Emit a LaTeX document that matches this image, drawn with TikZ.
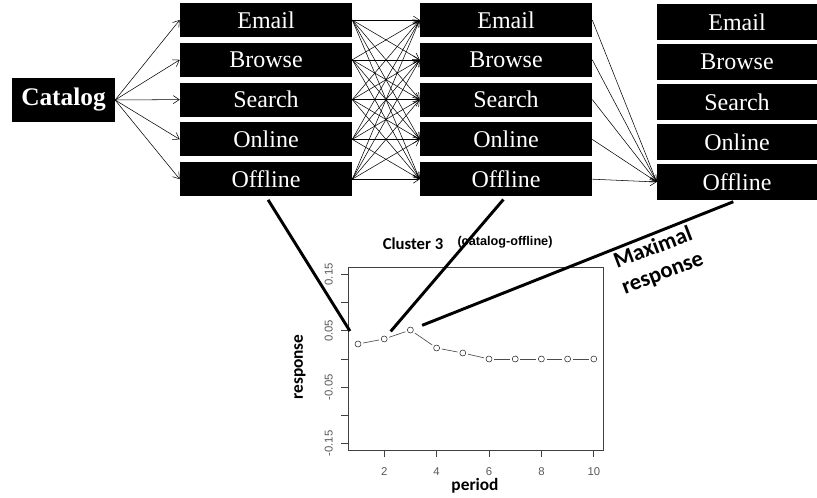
\documentclass[tikz,border=0pt]{standalone}
\usepackage{fontspec}
\setmainfont{Liberation Serif}
\newfontfamily\calfont{Carlito}
\newfontfamily\arialfont{Liberation Sans}
\usetikzlibrary{arrows.meta}

\begin{document}
\begin{tikzpicture}[x=0.75pt,y=-0.75pt]
\tikzset{
    chan/.style={fill=black, text=white, inner sep=0pt,
        minimum width=129pt, minimum height=25.5pt,
        font=\fontsize{18}{18}\selectfont},
    flow/.style={-{Straight Barb[length=4.5pt,width=6pt]}, line width=0.4pt},
    leader/.style={line width=2.2pt},
    dot/.style={circle, draw=black!85, line width=0.4pt, inner sep=0pt, minimum size=4.5pt},
    series/.style={black!70, line width=0.5pt, shorten <=1.5pt, shorten >=1.5pt},
    ticklab/.style={text=black!65, font=\arialfont\fontsize{8.5}{8.5}\selectfont, inner sep=0pt},
    plotlab/.style={font=\calfont\bfseries\fontsize{13}{13}\selectfont}
}
\useasboundingbox (0,0) rectangle (817,498);

% channels per period
\node[chan, minimum width=77pt, minimum height=33pt,
    font=\bfseries\fontsize{19}{19}\selectfont] (cat) at (63.5,100) {Catalog};
\foreach \ch [count=\i] in {Email,Browse,Search,Online,Offline} {
    \node[chan] (a\i) at (266,{20+39.8*(\i-1)}) {\ch};
    \node[chan] (b\i) at (506,{20+39.8*(\i-1)}) {\ch};
    \node[chan, minimum width=120pt, minimum height=27pt] (c\i) at (737,{22+40*(\i-1)}) {\ch};
}

% transitions
\foreach \i in {1,...,5} {
    \draw[flow] (cat.east) -- (a\i.west);
    \draw[flow] (b\i.east) -- (c5.west);
    \foreach \j in {1,...,5}
        \draw[flow] (a\i.east) -- (b\j.west);
}

% response plot
\begin{scope}[shift={(331.8,359)}, x=19.65pt, y=423pt]
    \draw[black!75, line width=0.6pt] (0.64,-0.162) rectangle (10.36,0.162);
    \foreach \v in {-0.15,-0.1,-0.05,0,0.05,0.1,0.15}
        \draw[black!75, line width=0.5pt] (0.64,\v) -- ++(-0.27,0);
    \foreach \v [count=\k] in {-0.15,-0.05,0.05,0.15}
        \node[ticklab, rotate=90] (yl\k) at (-0.12,\v) {\v};
    \foreach \t in {2,4,...,10} {
        \draw[black!75, line width=0.5pt] (\t,-0.162) -- ++(0,-0.0125);
        \node[ticklab] (xl\t) at (\t,-0.200) {\t};
    }
    \foreach \v [count=\t] in {0.0266,0.0355,0.0514,0.0195,0.0106,0,0,0,0,0}
        \node[dot] (p\t) at (\t,\v) {};
    \foreach \t [count=\s from 1] in {2,...,10}
        \draw[series] (p\s) -- (p\t);
\end{scope}

\node[font=\calfont\bfseries\fontsize{12.5}{12.5}\selectfont] (ttl) at (413,244) {Cluster 3};
\node[font=\arialfont\bfseries\fontsize{9.5}{9.5}\selectfont] (sub) at (505,242) {(catalog-offline)};
\node[plotlab, rotate=90] (ylab) at (300,367) {response};
\node[plotlab] (xlab) at (475,486) {period};
\node[rotate=21, align=center, font=\calfont\bfseries\fontsize{17}{20}\selectfont] (maxr) at (658,261) {Maximal\\response};

% pointers to the offline responses
\draw[leader, shorten <=3pt, shorten >=9pt] (a5.south) -- (p1);
\draw[leader, shorten <=3pt, shorten >=5pt] (b5.south) -- (p2);
\draw[leader, shorten <=3pt, shorten >=7pt] (c5.south) -- (p3);
\end{tikzpicture}
\end{document}
